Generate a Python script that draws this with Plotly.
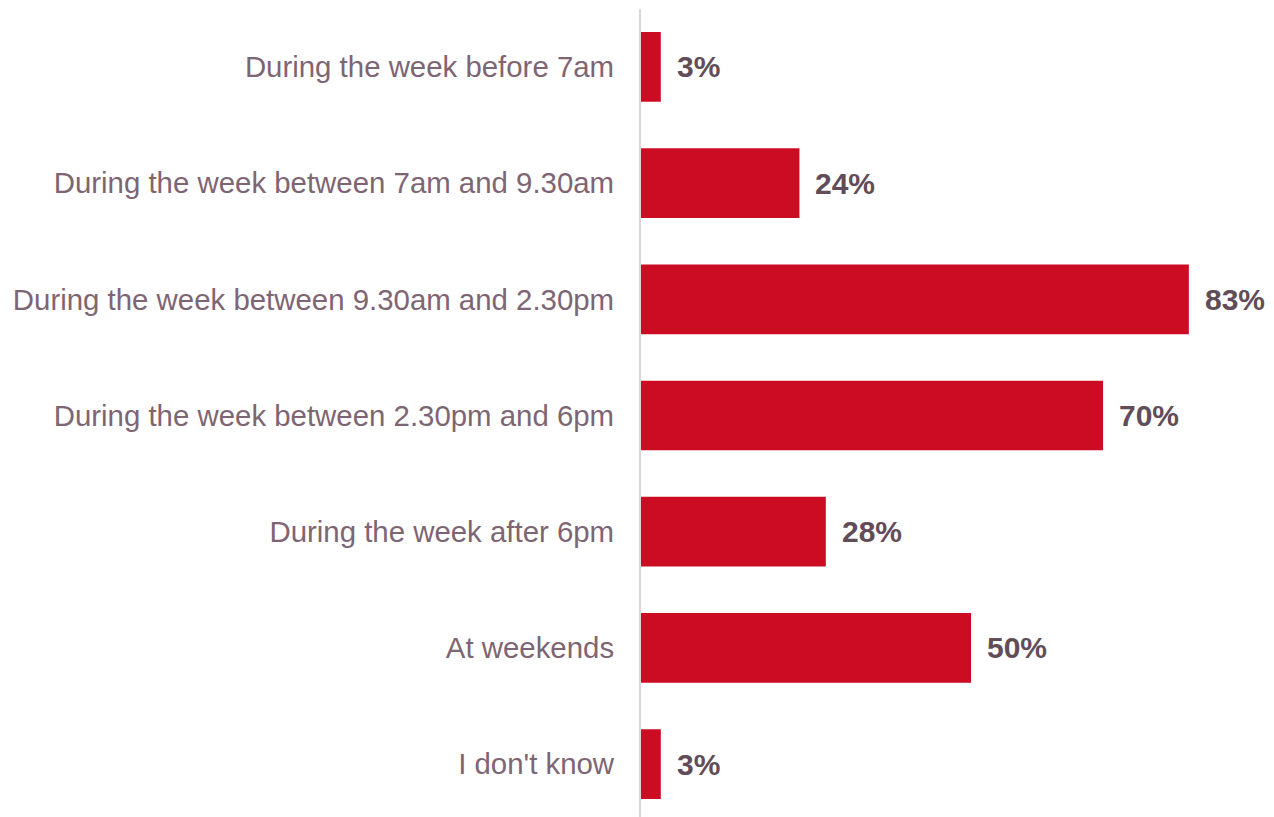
import plotly.graph_objects as go

categories = [
    "During the week before 7am",
    "During the week between 7am and 9.30am",
    "During the week between 9.30am and 2.30pm",
    "During the week between 2.30pm and 6pm",
    "During the week after 6pm",
    "At weekends",
    "I don't know",
]
values = [3, 24, 83, 70, 28, 50, 3]
labels = [f"{v}%" for v in values]

BAR_RED = "#CC0C22"
LABEL_COL = "#7E6573"
VALUE_COL = "#614C58"
FONT = "Arial, Liberation Sans, sans-serif"

fig = go.Figure(go.Bar(
    x=values, y=categories, orientation="h",
    marker=dict(color=BAR_RED, line=dict(width=0)),
    width=0.6, hoverinfo="skip",
))

for cat, v, lab in zip(categories, values, labels):
    fig.add_annotation(
        x=v, y=cat, text=f"<b>{lab}</b>", showarrow=False,
        xanchor="left", yanchor="middle", xshift=14,
        font=dict(family=FONT, size=30, color=VALUE_COL),
    )

# page body has an 8px margin, so the figure is shrunk to fit the window
fig.update_layout(
    width=1266, height=809,
    margin=dict(l=633, r=0, t=1, b=0),
    plot_bgcolor="white", paper_bgcolor="white",
    showlegend=False,
    font=dict(family=FONT),
    xaxis=dict(range=[0, 95.9], visible=False, showgrid=False, zeroline=False),
    yaxis=dict(
        range=[6.456, -0.499], showgrid=False, zeroline=False,
        showline=True, linecolor="#DCD6DA", linewidth=2,
        ticks="outside", ticklen=19, tickcolor="rgba(0,0,0,0)",
        tickfont=dict(family=FONT, size=29.4, color=LABEL_COL),
    ),
)

fig.write_html("out.html")
